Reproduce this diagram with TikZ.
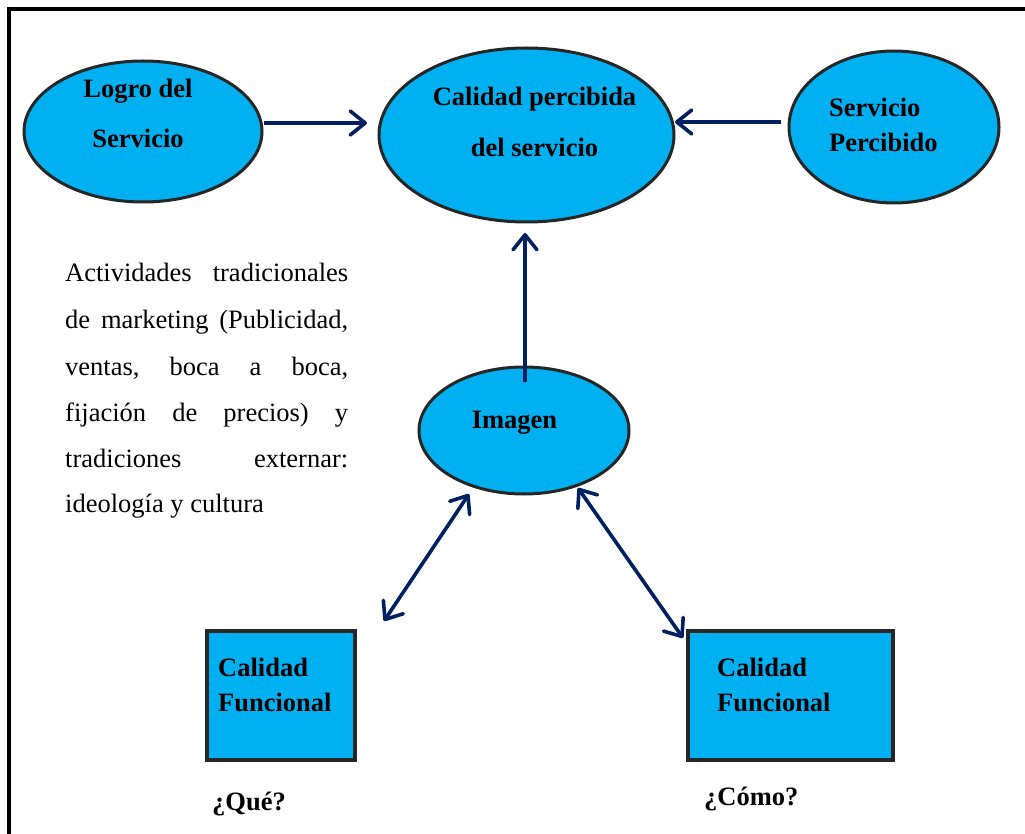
\documentclass[tikz,border=0pt]{standalone}
\usepackage{fontspec}
\setmainfont{Liberation Serif}
\usetikzlibrary{shapes.geometric,arrows.meta}
\definecolor{fillblue}{HTML}{00B0F0}
\definecolor{edgegray}{HTML}{262626}
\definecolor{navy}{HTML}{002060}
\newcommand\mybold{\fontsize{26.5}{30}\selectfont\bfseries}
\newcommand\myreg{\fontsize{26.5}{30}\selectfont}
\tikzset{
  oval/.style={ellipse, draw=edgegray, fill=fillblue, line width=3pt, inner sep=0pt},
  qbox/.style={rectangle, draw=edgegray, fill=fillblue, line width=4pt, inner sep=0pt},
  btxt/.style={inner sep=0pt, font=\mybold, text=black},
  rtxt/.style={inner sep=0pt, font=\myreg, text=black, anchor=base west},
  tipb/.tip={Straight Barb[length=15pt,width=24pt,round]},
  arr/.style={draw=navy, line width=3.6pt, -tipb},
  darr/.style={draw=navy, line width=3.6pt, tipb-tipb},
}
\begin{document}
\begin{tikzpicture}[x=1pt,y=-1pt]
\useasboundingbox (0,0) rectangle (1025,834);
% outer frame
\draw[line width=4pt, black] (8.5,834) -- (8.5,9) -- (1025,9);

% ellipses
\node[oval, minimum width=238pt, minimum height=141pt] (e1) at (143,131.5) {};
\node[oval, minimum width=295pt, minimum height=174pt] (e2) at (526.5,135) {};
\node[oval, minimum width=210pt, minimum height=152pt] (e3) at (894,127) {};
\node[oval, minimum width=210pt, minimum height=127pt] (e4) at (524,430.5) {};

% boxes
\node[qbox, minimum width=148pt, minimum height=129pt] (b1) at (281,695.5) {};
\node[qbox, minimum width=205pt, minimum height=129pt] (b2) at (790.5,695.5) {};

% texts in ellipses
\node[btxt, anchor=base] (t1a) at (138,98) {Logro del};
\node[btxt, anchor=base] (t1b) at (138,148) {Servicio};
\node[btxt, anchor=base] (t2a) at (534.5,106) {Calidad percibida};
\node[btxt, anchor=base] (t2b) at (534.5,157) {del servicio};
\node[btxt, anchor=base west] (t3a) at (829,117) {Servicio};
\node[btxt, anchor=base west] (t3b) at (829,152) {Percibido};
\node[btxt, anchor=base] (t4) at (514.5,428) {Imagen};

% texts in boxes
\node[btxt, anchor=base west] (tb1a) at (218,676) {Calidad};
\node[btxt, anchor=base west] (tb1b) at (218,711) {Funcional};
\node[btxt, anchor=base west] (tb2a) at (717,676) {Calidad};
\node[btxt, anchor=base west] (tb2b) at (717,711) {Funcional};

% questions
\node[btxt, anchor=base west] (q1) at (212,810) {¿Qué?};
\node[btxt, anchor=base west] (q2) at (704,805) {¿Cómo?};

% paragraph
\node[rtxt] (p1) at (65,282) {\hbox to 283pt{Actividades\hfill tradicionales}};
\node[rtxt] (p2) at (65,328) {\hbox to 283pt{de\hfill marketing\hfill (Publicidad,}};
\node[rtxt] (p3) at (65,375) {\hbox to 283pt{ventas,\hfill boca\hfill a\hfill boca,}};
\node[rtxt] (p4) at (65,421) {\hbox to 283pt{fijación\hfill de\hfill precios)\hfill y}};
\node[rtxt] (p5) at (65,467) {\hbox to 283pt{tradiciones\hfill externar:}};
\node[rtxt] (p6) at (65,512) {ideología y cultura};

% connector end points
\coordinate (a1s) at (264,123);
\coordinate (a1e) at (367,123);
\coordinate (a2s) at (781,122);
\coordinate (a2e) at (675,122);
\coordinate (a3s) at (525,382);
\coordinate (a3e) at (525,233);
\coordinate (d1a) at (384,621);
\coordinate (d1b) at (469,494);
\coordinate (d2a) at (578,488);
\coordinate (d2b) at (683,638);

\draw[arr] (a1s) -- (a1e);
\draw[arr] (a2s) -- (a2e);
\draw[arr] (a3s) -- (a3e);
\draw[darr] (d1a) -- (d1b);
\draw[darr] (d2a) -- (d2b);
\end{tikzpicture}
\end{document}
